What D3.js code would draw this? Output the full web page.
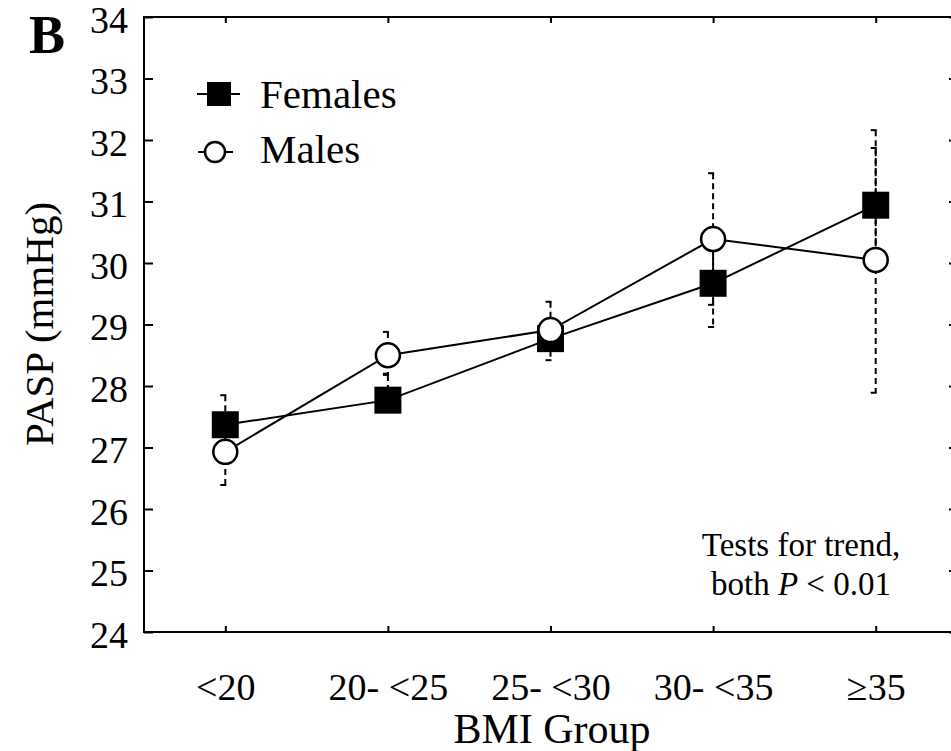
<!DOCTYPE html>
<html>
<head>
<meta charset="utf-8">
<script src="https://cdn.jsdelivr.net/npm/d3@7"></script>
<style>
  body { margin: 0; background: #fff; }
  svg { display: block; }
</style>
</head>
<body>
<div id="chart"></div>
<script>
// BMI groups and PASP means (mmHg)
const groups = ["<20", "20- <25", "25- <30", "30- <35", "≥35"];
const femaleMean = [27.37, 27.77, 28.77, 29.67, 30.94];
const femaleHigh = [27.85, 28.18, 28.9, 30.4, 32.16];
const femaleLow = [26.9, 27.6, 28.42, 28.96, 29.9];
const maleMean = [26.93, 28.5, 28.91, 30.39, 30.05];
const maleHigh = [27.3, 28.88, 29.37, 31.46, 31.87];
const maleLow = [26.39, 28.2, 28.6, 29.32, 27.89];
const yTicks = [24, 25, 26, 27, 28, 29, 30, 31, 32, 33, 34];

const width = 951, height = 751;
const margin = {top: 17, right: -6, bottom: 119, left: 144};
const innerW = width - margin.left - margin.right;
const innerH = height - margin.top - margin.bottom;

const svg = d3.select("#chart").append("svg")
    .attr("width", width)
    .attr("height", height);

const g = svg.append("g")
    .attr("transform", "translate(" + margin.left + "," + margin.top + ")");

const x = d3.scalePoint().domain(groups).range([0, innerW]).padding(0.5);
const y = d3.scaleLinear().domain([24, 34]).range([innerH, 0]);

// left axis, ticks pointing inward
const leftAxis = g.append("g")
    .call(d3.axisLeft(y).tickValues(yTicks).tickSize(-9).tickPadding(16).tickFormat(d3.format("d")));
leftAxis.select(".domain").remove();
leftAxis.selectAll("line").attr("stroke", "#000").attr("stroke-width", 2);
leftAxis.selectAll("text").attr("fill", "#000").attr("font-size", 38).attr("dy", "0.4em");

// right axis ticks
const rightAxis = g.append("g")
    .attr("transform", "translate(" + innerW + ",0)")
    .call(d3.axisRight(y).tickValues(yTicks).tickSize(-8).tickFormat(""));
rightAxis.select(".domain").remove();
rightAxis.selectAll("line").attr("stroke", "#000").attr("stroke-width", 2);

// bottom axis
const bottomAxis = g.append("g")
    .attr("transform", "translate(0," + innerH + ")")
    .call(d3.axisBottom(x).tickSize(-6).tickPadding(0));
bottomAxis.select(".domain").remove();
bottomAxis.selectAll("line").attr("stroke", "#000").attr("stroke-width", 2);
bottomAxis.selectAll("text").attr("fill", "#000").attr("font-size", 38).attr("y", 68).attr("dy", 0);

// top ticks
const topAxis = g.append("g")
    .call(d3.axisTop(x).tickSize(-6).tickFormat(""));
topAxis.select(".domain").remove();
topAxis.selectAll("line").attr("stroke", "#000").attr("stroke-width", 2);

// frame
g.append("rect")
    .attr("x", 0).attr("y", 0)
    .attr("width", innerW).attr("height", innerH)
    .attr("fill", "none").attr("stroke", "#000").attr("stroke-width", 2);

// error bars
function errorBars(lo, hi) {
    const eb = g.append("g").attr("stroke", "#000").attr("stroke-width", 2);
    groups.forEach((d, i) => {
        eb.append("line")
            .attr("x1", x(d)).attr("x2", x(d))
            .attr("y1", y(hi[i])).attr("y2", y(lo[i]))
            .attr("stroke-dasharray", "6,4");
        eb.append("line")
            .attr("x1", x(d) - 5).attr("x2", x(d) + 1)
            .attr("y1", y(hi[i])).attr("y2", y(hi[i]));
        eb.append("line")
            .attr("x1", x(d) - 5).attr("x2", x(d) + 1)
            .attr("y1", y(lo[i])).attr("y2", y(lo[i]));
    });
}
errorBars(femaleLow, femaleHigh);
errorBars(maleLow, maleHigh);

const line = d3.line()
    .x((d, i) => x(groups[i]))
    .y(d => y(d));

g.append("path")
    .datum(femaleMean)
    .attr("fill", "none").attr("stroke", "#000").attr("stroke-width", 2)
    .attr("d", line);

g.append("path")
    .datum(maleMean)
    .attr("fill", "none").attr("stroke", "#000").attr("stroke-width", 2)
    .attr("d", line);

const sq = 27;
g.selectAll(".female")
    .data(femaleMean)
    .enter().append("rect")
    .attr("class", "female")
    .attr("x", (d, i) => x(groups[i]) - sq / 2)
    .attr("y", d => y(d) - sq / 2)
    .attr("width", sq).attr("height", sq)
    .attr("fill", "#000");

g.selectAll(".male")
    .data(maleMean)
    .enter().append("circle")
    .attr("class", "male")
    .attr("cx", (d, i) => x(groups[i]))
    .attr("cy", d => y(d))
    .attr("r", 12)
    .attr("fill", "#fff").attr("stroke", "#000").attr("stroke-width", 2.5);

// legend
const legend = svg.append("g");
legend.append("line").attr("x1", 197).attr("x2", 240).attr("y1", 94).attr("y2", 94)
    .attr("stroke", "#000").attr("stroke-width", 2);
legend.append("rect").attr("x", 207).attr("y", 82).attr("width", 24).attr("height", 24).attr("fill", "#000");
legend.append("text").attr("x", 260).attr("y", 108).attr("font-size", 41).text("Females");
legend.append("line").attr("x1", 198).attr("x2", 233).attr("y1", 152).attr("y2", 152)
    .attr("stroke", "#000").attr("stroke-width", 2);
legend.append("circle").attr("cx", 215).attr("cy", 152).attr("r", 10)
    .attr("fill", "#fff").attr("stroke", "#000").attr("stroke-width", 2.5);
legend.append("text").attr("x", 260).attr("y", 163).attr("font-size", 41).text("Males");

// annotation
svg.append("text")
    .attr("x", 801).attr("y", 556).attr("font-size", 33).attr("text-anchor", "middle")
    .text("Tests for trend,");
const note = svg.append("text")
    .attr("x", 801).attr("y", 595).attr("font-size", 33).attr("text-anchor", "middle");
note.append("tspan").text("both ");
note.append("tspan").attr("font-style", "italic").text("P");
note.append("tspan").text(" < 0.01");

// titles
svg.append("text")
    .attr("transform", "translate(53,324) rotate(-90)")
    .attr("text-anchor", "middle").attr("font-size", 41)
    .text("PASP (mmHg)");

svg.append("text")
    .attr("x", 552).attr("y", 743).attr("text-anchor", "middle").attr("font-size", 42)
    .text("BMI Group");

svg.append("text")
    .attr("x", 29).attr("y", 53).attr("font-size", 54).attr("font-weight", "bold")
    .text("B");

// one serif face for every label
svg.selectAll("text").style("font-family", "'Liberation Serif', serif");
</script>
</body>
</html>
